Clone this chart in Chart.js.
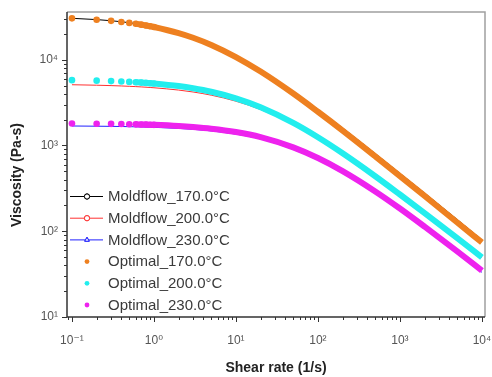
<!DOCTYPE html>
<html>
<head>
<meta charset="utf-8">
<script src="https://cdn.jsdelivr.net/npm/chart.js@4.4.1/dist/chart.umd.min.js"></script>
<style>
  html, body { margin: 0; padding: 0; background: #fff; }
</style>
</head>
<body>
<canvas id="chart" width="492" height="377"></canvas>
<script>
const shearRate = [0.1, 0.2, 0.3, 0.4, 0.5, 0.6, 0.7, 0.8, 0.9, 1, 2, 3, 5, 10, 20, 50, 100, 200, 500, 1000, 2000, 5000, 10000];

const moldflow170 = [30400, 29350, 28480, 27700, 27000, 26380, 25800, 25260, 24760, 24290, 20720, 18330, 15180, 11100, 7620, 4280, 2640, 1600, 805, 474, 279, 137, 79.5];
const moldflow200 = [5106, 5043, 4989, 4942, 4897, 4856, 4817, 4779, 4744, 4710, 4426, 4204, 3858, 3281, 2622, 1760, 1213, 796, 433, 267, 162, 82.8, 49.5];
const moldflow230 = [1687, 1678, 1671, 1664, 1657, 1651, 1645, 1639, 1634, 1628, 1582, 1543, 1479, 1356, 1190, 900, 675, 475, 275, 174, 108, 55.5, 33.2];

const optimal170 = [30350, 29260, 28370, 27570, 26870, 26230, 25640, 25090, 24580, 24100, 20470, 18050, 14880, 10750, 7280, 4030, 2472, 1492, 748, 440, 258, 126.5, 74];
const optimal200 = [5778, 5699, 5631, 5569, 5513, 5460, 5411, 5364, 5320, 5277, 4925, 4649, 4229, 3546, 2788, 1833, 1247, 811, 438, 268, 162.5, 82.9, 49.6];
const optimal230 = [1805, 1795, 1787, 1779, 1771, 1764, 1757, 1751, 1745, 1739, 1686, 1643, 1571, 1434, 1250, 951, 714, 502, 291, 184, 113, 58.2, 34.8];

const seriesLabels = ["Moldflow_170.0°C", "Moldflow_200.0°C", "Moldflow_230.0°C", "Optimal_170.0°C", "Optimal_200.0°C", "Optimal_230.0°C"];

const xTicks = [0.1, 1, 10, 100, 1000, 10000];
const xTickLabels = ["10⁻¹", "10⁰", "10¹", "10²", "10³", "10⁴"];
const yTicks = [10, 100, 1000, 10000];
const yTickLabels = ["10¹", "10²", "10³", "10⁴"];

const FONT = "Arial, 'Liberation Sans', 'DejaVu Sans', sans-serif";

const toPoints = (values) => shearRate.map((x, i) => ({ x: x, y: values[i] }));

const moldflowSet = (label, values, color, marker) => ({
  label: label,
  data: toPoints(values),
  borderColor: color,
  backgroundColor: "#fff",
  borderWidth: 1,
  pointRadius: 0,
  pointStyle: marker,
  cubicInterpolationMode: "monotone",
  order: 1,
});

// dense scatter: dots at low rates, merging into a thick band further right
const optimalSet = (label, values, color) => ({
  label: label,
  data: toPoints(values),
  borderColor: color,
  backgroundColor: color,
  borderWidth: 6,
  pointRadius: (ctx) => (shearRate[ctx.dataIndex] <= 1 ? 3.3 : 0),
  pointBorderWidth: 0,
  pointStyle: "circle",
  cubicInterpolationMode: "monotone",
  segment: {
    borderColor: (ctx) => (shearRate[ctx.p0DataIndex] < 0.6 ? "rgba(0,0,0,0)" : color),
  },
  order: 0,
});

const axesFrame = {
  id: "axesFrame",
  afterDatasetsDraw(chart) {
    const { ctx, chartArea: { left, right, top, bottom }, scales: { x, y } } = chart;
    ctx.save();
    ctx.strokeStyle = "#a0a0a0";
    ctx.lineWidth = 1.5;
    ctx.beginPath();
    ctx.moveTo(left, top);
    ctx.lineTo(right, top);
    ctx.lineTo(right, bottom);
    ctx.stroke();

    ctx.strokeStyle = "#333";
    ctx.beginPath();
    ctx.moveTo(left, top);
    ctx.lineTo(left, bottom);
    ctx.lineTo(right, bottom);
    ctx.stroke();

    ctx.lineWidth = 1;
    for (let e = -2; e <= 4; e++) {
      for (let m = 1; m <= 9; m++) {
        const v = m * Math.pow(10, e);
        const len = m === 1 ? 5 : 3;
        if (v >= x.min && v <= x.max) {
          const px = Math.round(x.getPixelForValue(v)) + 0.5;
          ctx.beginPath();
          ctx.moveTo(px, bottom);
          ctx.lineTo(px, bottom + len);
          ctx.stroke();
        }
        if (v >= y.min && v <= y.max) {
          const py = Math.round(y.getPixelForValue(v)) + 0.5;
          ctx.beginPath();
          ctx.moveTo(left, py);
          ctx.lineTo(left - len, py);
          ctx.stroke();
        }
      }
    }
    ctx.restore();
  },
};

const sideTitleAndLegend = {
  id: "sideTitleAndLegend",
  afterDraw(chart) {
    const { ctx } = chart;
    ctx.save();

    ctx.translate(17, 175);
    ctx.rotate(-Math.PI / 2);
    ctx.fillStyle = "#222";
    ctx.font = `bold 14px ${FONT}`;
    ctx.textAlign = "center";
    ctx.textBaseline = "middle";
    ctx.fillText("Viscosity (Pa-s)", 0, 0);
    ctx.setTransform(1, 0, 0, 1, 0, 0);

    ctx.font = `15px ${FONT}`;
    ctx.textAlign = "left";
    chart.data.datasets.forEach((ds, i) => {
      const yy = 196.5 + i * 21.7;
      if (ds.borderWidth === 1) {
        ctx.strokeStyle = ds.borderColor;
        ctx.lineWidth = 1;
        ctx.beginPath();
        ctx.moveTo(70, yy);
        ctx.lineTo(103, yy);
        ctx.stroke();
        Chart.helpers.drawPoint(ctx, { pointStyle: ds.pointStyle, radius: 2.6, borderWidth: 1 }, 87, yy);
        ctx.fillStyle = "#fff";
        ctx.fill();
        ctx.stroke();
      } else {
        ctx.fillStyle = ds.backgroundColor;
        ctx.beginPath();
        ctx.arc(87, yy, 2.4, 0, Math.PI * 2);
        ctx.fill();
      }
      ctx.fillStyle = "#3a3a3a";
      ctx.textBaseline = "middle";
      ctx.fillText(ds.label, 108, yy + 0.5);
    });
    ctx.restore();
  },
};

new Chart(document.getElementById("chart"), {
  type: "line",
  data: {
    datasets: [
      moldflowSet(seriesLabels[0], moldflow170, "#000000", "circle"),
      moldflowSet(seriesLabels[1], moldflow200, "#ff3030", "circle"),
      moldflowSet(seriesLabels[2], moldflow230, "#2020ff", "triangle"),
      optimalSet(seriesLabels[3], optimal170, "#ee8020"),
      optimalSet(seriesLabels[4], optimal200, "#22eeee"),
      optimalSet(seriesLabels[5], optimal230, "#ee22ee"),
    ],
  },
  options: {
    responsive: false,
    animation: false,
    layout: { padding: { top: 12, right: 7, left: 0, bottom: 0 } },
    plugins: {
      legend: { display: false },
      tooltip: { enabled: false },
    },
    scales: {
      x: {
        type: "logarithmic",
        min: 0.087,
        max: 10900,
        grid: { display: false, drawTicks: false },
        border: { display: false },
        afterBuildTicks(scale) {
          scale.ticks = xTicks.map((v) => ({ value: v }));
        },
        afterFit(scale) {
          scale.height = 60;
          scale.paddingLeft = 0;
          scale.paddingRight = 0;
        },
        ticks: {
          autoSkip: false,
          maxRotation: 0,
          padding: 16,
          color: "#555",
          font: { family: FONT, size: 12 },
          callback: (value) => xTickLabels[xTicks.indexOf(value)],
        },
        title: {
          display: true,
          text: "Shear rate (1/s)",
          color: "#222",
          font: { family: FONT, size: 14, weight: "bold" },
          padding: { top: 3, bottom: 0 },
        },
      },
      y: {
        type: "logarithmic",
        min: 10,
        max: 36000,
        grid: { display: false, drawTicks: false },
        border: { display: false },
        afterBuildTicks(scale) {
          scale.ticks = yTicks.map((v) => ({ value: v }));
        },
        afterFit(scale) {
          scale.width = 67;
          scale.paddingTop = 0;
          scale.paddingBottom = 0;
        },
        ticks: {
          autoSkip: false,
          padding: 9,
          color: "#555",
          font: { family: FONT, size: 12 },
          callback: (value) => yTickLabels[yTicks.indexOf(value)],
        },
      },
    },
  },
  plugins: [axesFrame, sideTitleAndLegend],
});
</script>
</body>
</html>
